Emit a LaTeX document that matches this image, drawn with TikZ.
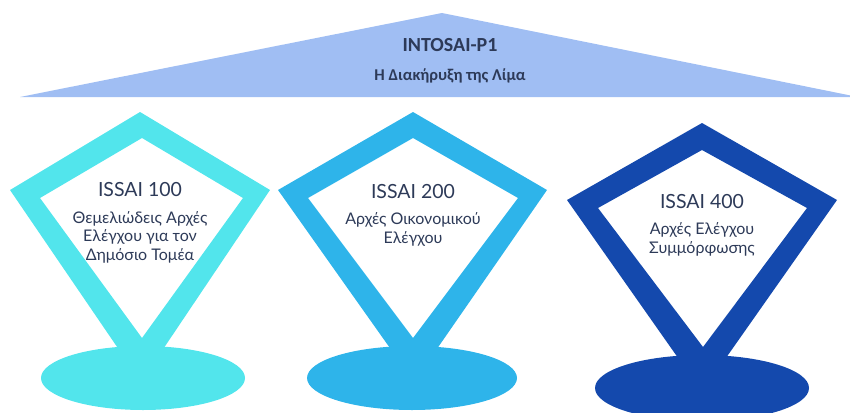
\documentclass[tikz,border=0pt]{standalone}
\usepackage{fontspec}
\setmainfont{Lato}
\newfontfamily\roofont{Carlito}

\definecolor{roofblue}{RGB}{160,190,243}
\definecolor{pincyan}{RGB}{82,229,236}
\definecolor{pinblue}{RGB}{46,180,234}
\definecolor{pinnavy}{RGB}{20,73,173}
\definecolor{textnavy}{RGB}{45,58,88}

\begin{document}
\begin{tikzpicture}[x=1pt, y=-1pt,
    kite/.style={even odd rule},
    issai/.style={anchor=base, text=textnavy, inner sep=0pt, font=\fontsize{19.5}{21}\selectfont},
    descr/.style={anchor=base, text=textnavy, inner sep=0pt, align=center, font=\fontsize{16}{18.5}\selectfont}]
    \useasboundingbox (0,0) rectangle (850,412);
    % roof: INTOSAI-P1
    \fill[roofblue] (20,97) -- (442,13) -- (858,97) -- cycle;
    \node[anchor=base, text=textnavy, inner sep=0pt, font=\roofont\bfseries\fontsize{20}{22}\selectfont] (p1) at (450,52) {INTOSAI-P1};
    \node[anchor=base, text=textnavy, inner sep=0pt, font=\roofont\bfseries\fontsize{16.5}{18}\selectfont] (lima) at (450,80) {Η Διακήρυξη της Λίμα};
    % pillar ISSAI 100
    \fill[pincyan, kite] (140,112) -- (10,190) -- (141,382) -- (270,190) -- cycle
        (142,138) -- (40,198) -- (142,338) -- (243,198) -- cycle;
    \fill[pincyan] (143,378) ellipse [x radius=102, y radius=32];
    \node[issai] (i100) at (140,196) {ISSAI 100};
    \node[descr] (d100) at (140,260) {Θεμελιώδεις Αρχές\\Ελέγχου για τον\\Δημόσιο Τομέα};
    % pillar ISSAI 200
    \fill[pinblue, kite] (413,112) -- (278,190) -- (414,382) -- (547,190) -- cycle
        (413,138) -- (308,198) -- (413,338) -- (518,198) -- cycle;
    \fill[pinblue] (412,378) ellipse [x radius=105, y radius=32];
    \node[issai] (i200) at (413,198) {ISSAI 200};
    \node[descr] (d200) at (413,243) {Αρχές Οικονομικού\\Ελέγχου};
    % pillar ISSAI 400
    \fill[pinnavy, kite] (702,123) -- (567,200) -- (702,392) -- (837,200) -- cycle
        (702,150) -- (598,208) -- (703,347) -- (807,208) -- cycle;
    \fill[pinnavy] (702,388) ellipse [x radius=107, y radius=33];
    \node[issai] (i400) at (702,208) {ISSAI 400};
    \node[descr] (d400) at (702,253) {Αρχές Ελέγχου\\Συμμόρφωσης};
\end{tikzpicture}
\end{document}
